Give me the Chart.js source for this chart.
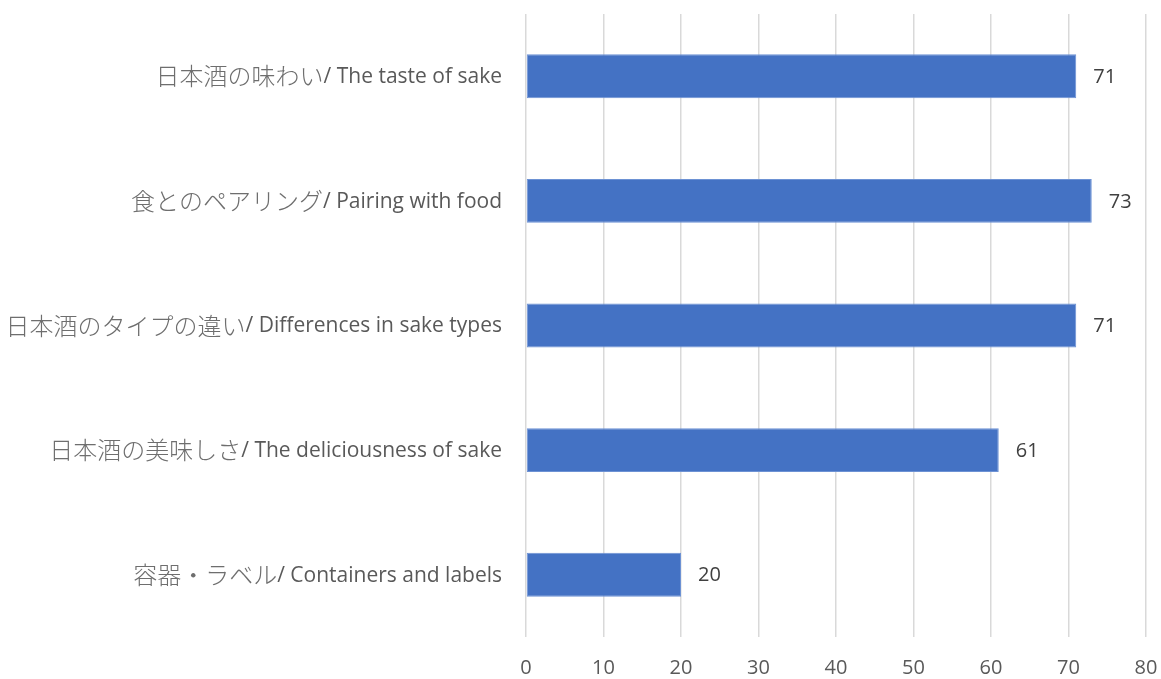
<!DOCTYPE html>
<html>
<head>
<meta charset="utf-8">
<script src="https://cdn.jsdelivr.net/npm/chart.js@4/dist/chart.umd.min.js"></script>
<style>
  html, body { margin: 0; padding: 0; background: #fff; }
  #wrap { width: 1161px; height: 679px; }
</style>
</head>
<body>
<div id="wrap"><canvas id="grafico" width="1161" height="679"></canvas></div>
<script>
const categorias = [
    "日本酒の味わい/ The taste of sake",
    "食とのペアリング/ Pairing with food",
    "日本酒のタイプの違い/ Differences in sake types",
    "日本酒の美味しさ/ The deliciousness of sake",
    "容器・ラベル/ Containers and labels"
];
const valores = [71, 73, 71, 61, 20];
const ejeMax = 80;
const ejePaso = 10;

const fuenteLatina = '"Open Sans", sans-serif';
const fuenteJaponesa = '"Noto Sans CJK JP", sans-serif';

// valor escrito a la derecha de cada barra
const etiquetasValor = {
    id: 'etiquetasValor',
    afterDatasetsDraw(chart) {
        const ctx = chart.ctx;
        const meta = chart.getDatasetMeta(0);
        ctx.save();
        ctx.font = '20px ' + fuenteLatina;
        ctx.fillStyle = '#404040';
        ctx.textAlign = 'left';
        ctx.textBaseline = 'middle';
        meta.data.forEach((bar, i) => {
            ctx.fillText(String(chart.data.datasets[0].data[i]), bar.x + 17, bar.y + 1);
        });
        ctx.restore();
    }
};

// nombres de categoría: parte japonesa y parte inglesa con tipos distintos
const etiquetasCategoria = {
    id: 'etiquetasCategoria',
    afterDraw(chart) {
        const ctx = chart.ctx;
        const escala = chart.scales.y;
        const derecha = escala.right - 24;
        const tipoJp = '300 24px ' + fuenteJaponesa;
        const tipoEn = '21px ' + fuenteLatina;
        ctx.save();
        ctx.textBaseline = 'middle';
        ctx.textAlign = 'left';
        chart.data.labels.forEach((texto, i) => {
            const y = escala.getPixelForTick(i);
            const corte = texto.indexOf('/');
            const jp = texto.slice(0, corte);
            const en = texto.slice(corte);
            ctx.font = tipoJp;
            const anchoJp = ctx.measureText(jp).width;
            ctx.font = tipoEn;
            const anchoEn = ctx.measureText(en).width;
            const x0 = derecha - anchoEn - anchoJp;
            ctx.font = tipoJp;
            ctx.fillStyle = '#6e6e6e';
            ctx.fillText(jp, x0, y);
            ctx.font = tipoEn;
            ctx.fillStyle = '#595959';
            ctx.fillText(en, x0 + anchoJp, y + 1);
        });
        ctx.restore();
    }
};

const ctx = document.getElementById('grafico').getContext('2d');
new Chart(ctx, {
    type: 'bar',
    data: {
        labels: categorias,
        datasets: [{
            data: valores,
            backgroundColor: '#4472C4',
            borderColor: '#6d92d4',
            borderWidth: 1,
            borderSkipped: false,
            barPercentage: 0.352,
            categoryPercentage: 1
        }]
    },
    options: {
        indexAxis: 'y',
        responsive: false,
        animation: false,
        layout: { padding: { left: 0, right: 15, top: 14, bottom: 0 } },
        plugins: {
            legend: { display: false },
            tooltip: { enabled: false }
        },
        scales: {
            x: {
                min: 0,
                max: ejeMax,
                ticks: {
                    stepSize: ejePaso,
                    color: '#595959',
                    font: { family: fuenteLatina, size: 20 },
                    padding: 19
                },
                grid: { color: '#d9d9d9', lineWidth: 1.5, drawTicks: false },
                border: { display: false },
                afterFit(scale) {
                    scale.height = 42;
                    scale.paddingLeft = 0;
                    scale.paddingRight = 0;
                }
            },
            y: {
                ticks: { display: false },
                grid: { display: false, drawTicks: false },
                border: { display: false },
                afterFit(scale) {
                    scale.width = 526;
                    scale.paddingTop = 0;
                    scale.paddingBottom = 0;
                }
            }
        }
    },
    plugins: [etiquetasValor, etiquetasCategoria]
});
</script>
</body>
</html>
